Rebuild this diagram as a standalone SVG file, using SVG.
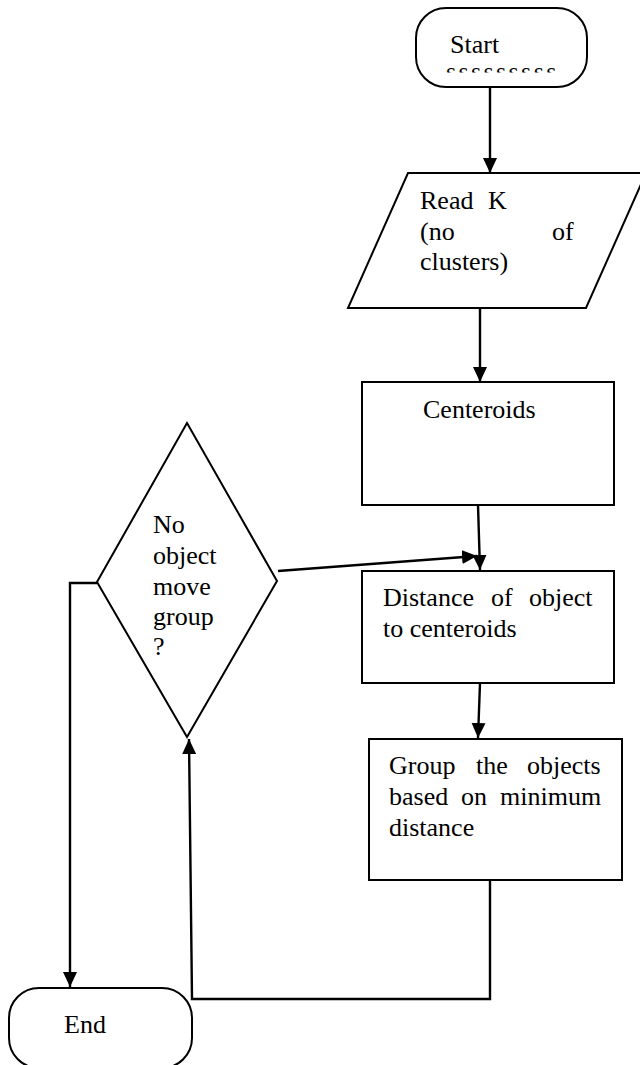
<svg xmlns="http://www.w3.org/2000/svg" width="640" height="1065" viewBox="0 0 640 1065">
<style>
.shape{fill:#fff;stroke:#000;stroke-width:2}
.conn{fill:none;stroke:#000;stroke-width:2.4}
text{font-family:'Liberation Serif','DejaVu Serif',serif;font-size:26px;fill:#000}
</style>
<defs>
<marker id="ah" markerUnits="userSpaceOnUse" markerWidth="16" markerHeight="16" refX="15" refY="7" orient="auto">
<path d="M0,0 L15,7 L0,14 z" fill="#000"/>
</marker>
<clipPath id="sclip"><rect x="440" y="64" width="125" height="8.5"/></clipPath>
</defs>
<rect width="640" height="1065" fill="#fff"/>
<g id="start">
<rect class="shape" x="416" y="8" width="171" height="79" rx="30" ry="30"/>
<text x="450" y="53" font-family="Liberation Serif, serif">Start</text>
<text x="446" y="80" letter-spacing="2.4" clip-path="url(#sclip)" font-family="Liberation Serif, serif">sssssssss</text>
</g>
<g id="read" font-family="Liberation Serif, serif">
<polygon class="shape" points="408,173 646,173 586,308 348,308"/>
<text x="420" y="209">Read</text>
<text x="488" y="209">K</text>
<text x="420" y="240">(no</text>
<text x="552" y="240">of</text>
<text x="420" y="270">clusters)</text>
</g>
<g id="centeroids">
<rect class="shape" x="362" y="382" width="252" height="123"/>
<text x="423" y="418">Centeroids</text>
</g>
<g id="distance">
<rect class="shape" x="362" y="571" width="252" height="112"/>
<text x="383" y="606">Distance</text>
<text x="491" y="606">of</text>
<text x="529" y="606">object</text>
<text x="383" y="637">to centeroids</text>
</g>
<g id="group">
<rect class="shape" x="369" y="739" width="253" height="141"/>
<text x="389" y="774">Group</text>
<text x="476" y="774">the</text>
<text x="527" y="774">objects</text>
<text x="389" y="805">based</text>
<text x="461" y="805">on</text>
<text x="500" y="805">minimum</text>
<text x="389" y="836">distance</text>
</g>
<g id="decision">
<polygon class="shape" points="187,423 277,581 187,737 97,582"/>
<text x="153" y="533">No</text>
<text x="153" y="564">object</text>
<text x="153" y="595">move</text>
<text x="153" y="625">group</text>
<text x="153" y="655">?</text>
</g>
<g id="end">
<rect class="shape" x="9" y="988" width="183" height="80" rx="30" ry="30"/>
<text x="64" y="1033">End</text>
</g>
<g id="connectors">
<line class="conn" x1="490" y1="87" x2="490" y2="173" marker-end="url(#ah)"/>
<line class="conn" x1="480" y1="308" x2="480" y2="382" marker-end="url(#ah)"/>
<line class="conn" x1="478" y1="505" x2="480" y2="570" marker-end="url(#ah)"/>
<line class="conn" x1="278" y1="571" x2="477" y2="556" marker-end="url(#ah)"/>
<line class="conn" x1="480" y1="683" x2="478" y2="738" marker-end="url(#ah)"/>
<polyline class="conn" points="490,880 490,999 192,999 189,739" marker-end="url(#ah)"/>
<polyline class="conn" points="97,583 70,583 70,987" marker-end="url(#ah)"/>
</g>
</svg>
